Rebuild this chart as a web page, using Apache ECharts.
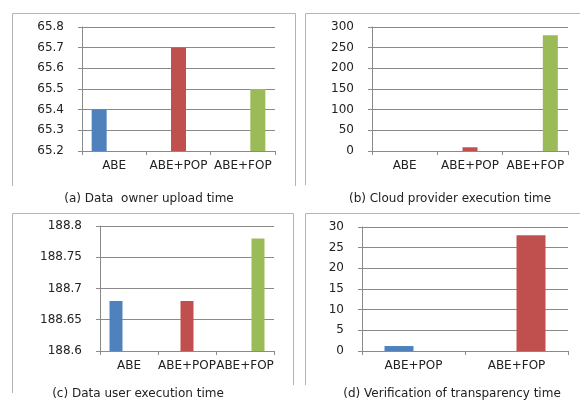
<!DOCTYPE html>
<html>
<head>
<meta charset="utf-8">
<script src="https://cdn.jsdelivr.net/npm/echarts@6/dist/echarts.min.js"></script>
<style>
  html, body { margin: 0; padding: 0; background: #fff; }
  #chart { width: 580px; height: 401px; }
</style>
</head>
<body>
<div id="chart"></div>
<script>
// Categories for each panel
var schemes3 = ['ABE', 'ABE+POP', 'ABE+FOP'];
var schemes2 = ['ABE+POP', 'ABE+FOP'];

// Measured times
var ownerUpload = [65.4, 65.7, 65.5];      // (a)
var cloudExec = [0, 9, 280];               // (b)
var userExec = [188.68, 188.68, 188.78];   // (c)
var verifyTime = [1.2, 28];                // (d)

// Panel captions
var captions = [
  '(a) Data  owner upload time',
  '(b) Cloud provider execution time',
  '(c) Data user execution time',
  '(d) Verification of transparency time'
];

var colors = ['#4F81BD', '#C0504D', '#9BBB59'];
var FONT = 'DejaVu Sans';
var gridColor = '#8a8a8a';

var grids = [
  { left: 82, right: 305, top: 27, bottom: 250 },
  { left: 372, right: 12, top: 27, bottom: 250 },
  { left: 100, right: 306, top: 226, bottom: 50 },
  { left: 362, right: 12, top: 227, bottom: 50 }
];

function xAxis(idx, cats) {
  return {
    type: 'category', gridIndex: idx, data: cats, boundaryGap: true,
    axisLine: { lineStyle: { color: gridColor, width: 1 } },
    axisTick: { show: true, length: 4, lineStyle: { color: gridColor } },
    axisLabel: { interval: 0, hideOverlap: false, margin: 9, color: '#222', fontFamily: FONT, fontSize: 12 }
  };
}

function yAxis(idx, min, max, interval, fmt) {
  return {
    type: 'value', gridIndex: idx, min: min, max: max, interval: interval,
    axisLine: { show: true, lineStyle: { color: gridColor, width: 1 } },
    axisTick: { show: true, length: 4, lineStyle: { color: gridColor } },
    splitLine: { show: true, lineStyle: { color: gridColor, width: 1 } },
    axisLabel: { margin: 18, color: '#222', fontFamily: FONT, fontSize: 12, formatter: fmt }
  };
}

// One series per scheme; each scheme only has a value in its own category
function schemeSeries(idx, values, width, colorOffset) {
  return values.map(function (v, i) {
    var data = values.map(function (_, j) { return j === i ? v : '-'; });
    return {
      type: 'bar', xAxisIndex: idx, yAxisIndex: idx, data: data,
      barWidth: width, barGap: '0%',
      itemStyle: { color: colors[i + colorOffset] },
      silent: true
    };
  });
}

var frameStyle = { stroke: '#b4b4b4', lineWidth: 1, fill: null };
function frame(points) {
  return { type: 'polyline', shape: { points: points }, style: frameStyle, silent: true };
}
function caption(text, x, y) {
  return {
    type: 'text', x: x, y: y,
    style: { text: text, fill: '#222', font: '12px "' + FONT + '"', textAlign: 'center', textVerticalAlign: 'middle' }
  };
}

var option = {
  animation: false,
  backgroundColor: '#fff',
  grid: grids,
  xAxis: [xAxis(0, schemes3), xAxis(1, schemes3), xAxis(2, schemes3), xAxis(3, schemes2)],
  yAxis: [
    yAxis(0, 65.2, 65.8, 0.1, function (v) { return v.toFixed(1); }),
    yAxis(1, 0, 300, 50),
    yAxis(2, 188.6, 188.8, 0.05, function (v) { return String(+v.toFixed(2)); }),
    yAxis(3, 0, 30, 5)
  ],
  series: []
    .concat(schemeSeries(0, ownerUpload, 15, 0))
    .concat(schemeSeries(1, cloudExec, 15, 0))
    .concat(schemeSeries(2, userExec, 13, 0))
    .concat(schemeSeries(3, verifyTime, 29, 0)),
  graphic: [
    frame([[12.5, 186], [12.5, 13.5], [295.5, 13.5], [295.5, 186]]),
    frame([[305.5, 185], [305.5, 13.5], [580, 13.5]]),
    frame([[12.5, 393], [12.5, 213.5], [293.5, 213.5], [293.5, 385]]),
    frame([[305.5, 385], [305.5, 213.5], [580, 213.5]]),
    caption(captions[0], 149, 199),
    caption(captions[1], 450, 199),
    caption(captions[2], 138, 394),
    caption(captions[3], 452, 394)
  ]
};

var chart = echarts.init(document.getElementById('chart'), null, { renderer: 'canvas' });
chart.setOption(option);
</script>
</body>
</html>
